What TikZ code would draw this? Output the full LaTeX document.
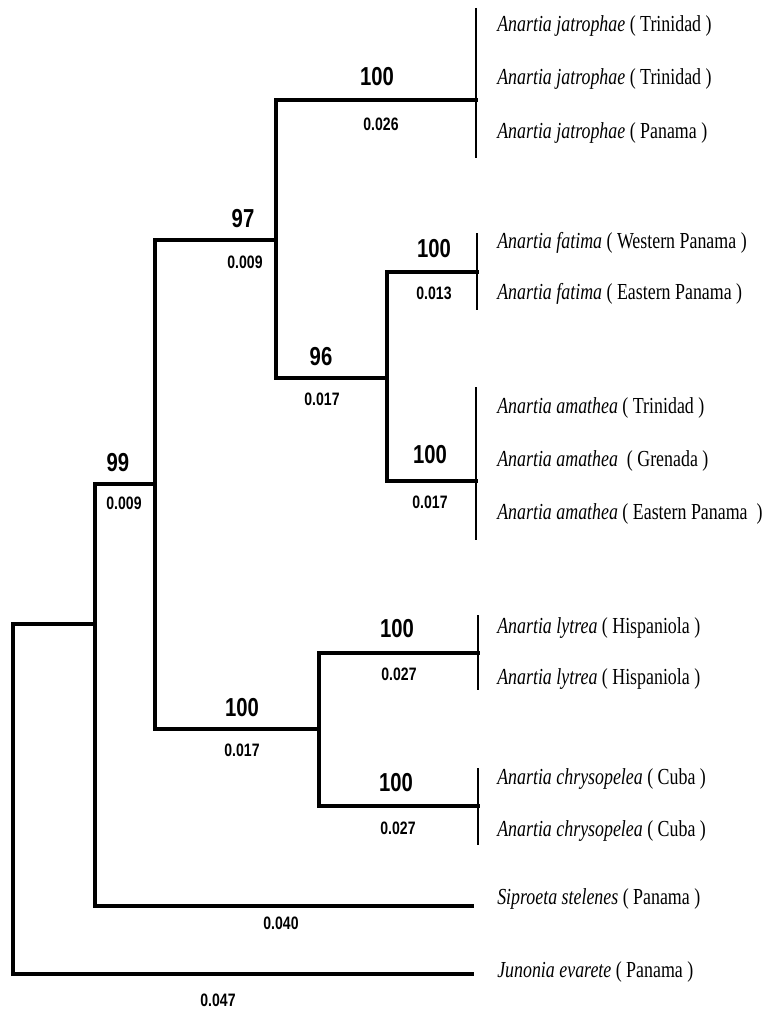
\documentclass[tikz,border=0pt]{standalone}
\usepackage{fontspec}
\setmainfont[FakeStretch=0.78]{Liberation Serif}
\newfontfamily\numfont[FakeStretch=0.78]{Liberation Sans}
\usetikzlibrary{calc,positioning}
\tikzset{
  br/.style={line width=2.6pt,black,line cap=rect},
  lf/.style={line width=1.1pt,black},
  tx/.style={anchor=base west,inner sep=0pt,font=\fontsize{17.2}{20}\selectfont},
  bs/.style={inner sep=0pt,font=\numfont\bfseries\fontsize{19.5}{21}\selectfont},
  bl/.style={inner sep=0pt,font=\numfont\bfseries\fontsize{13.5}{15}\selectfont}
}
\begin{document}
\begin{tikzpicture}[x=0.75pt,y=-0.75pt]
\useasboundingbox (0,0) rectangle (771,1013);
% internal nodes (top and bottom of each vertical)
\coordinate (Rt) at (13,624);  \coordinate (Rb) at (13,974);
\coordinate (At) at (95,484);  \coordinate (Ab) at (95,906);
\coordinate (Bt) at (155,240); \coordinate (Bb) at (155,729);
\coordinate (Ct) at (276,100); \coordinate (Cb) at (276,378);
\coordinate (Dt) at (387,272); \coordinate (Db) at (387,481);
\coordinate (Et) at (319,653); \coordinate (Eb) at (319,806);
% tips
\coordinate (jat) at (476,100); \coordinate (fat) at (477,272);
\coordinate (ama) at (476,481); \coordinate (lyt) at (478,653);
\coordinate (chr) at (478,806); \coordinate (sip) at (472,906);
\coordinate (jun) at (472,974);
% branches
\draw[br] (Rt -| At) -- (Rt) -- (Rb) -- (jun);
\draw[br] (At -| Bt) -- (At) -- (Ab) -- (sip);
\draw[br] (Bt -| Ct) -- (Bt) -- (Bb) -- (Bb -| Et);
\draw[br] (jat) -- (Ct) -- (Cb) -- (Cb -| Dt);
\draw[br] (fat) -- (Dt) -- (Db) -- (ama);
\draw[br] (lyt) -- (Et) -- (Eb) -- (chr);
% terminal bars
\draw[lf] (476,8) -- (476,158);
\draw[br,line width=2pt,line cap=butt] (476,47) -- (jat);
\draw[lf] (477,233) -- (477,310);
\draw[lf] (476,387) -- (476,540);
\draw[br,line width=2pt,line cap=butt] (476,425) -- (476,462);
\draw[lf] (478,615) -- (478,690);
\draw[lf] (478,768) -- (478,845);
% taxa
\node[tx] (t1) at (497,32) {\textit{Anartia jatrophae} ( Trinidad )};
\node[tx] (t2) at (497,85) {\textit{Anartia jatrophae} ( Trinidad )};
\node[tx] (t3) at (497,139) {\textit{Anartia jatrophae} ( Panama )};
\node[tx] (t4) at (497,248) {\textit{Anartia fatima} ( Western Panama )};
\node[tx] (t5) at (497,299) {\textit{Anartia fatima} ( Eastern Panama )};
\node[tx] (t6) at (497,413) {\textit{Anartia amathea} ( Trinidad )};
\node[tx] (t7) at (497,466) {\textit{Anartia amathea} \ ( Grenada )};
\node[tx] (t8) at (497,519) {\textit{Anartia amathea} ( Eastern Panama \ )};
\node[tx] (t9) at (497,633) {\textit{Anartia lytrea} ( Hispaniola )};
\node[tx] (t10) at (497,684) {\textit{Anartia lytrea} ( Hispaniola )};
\node[tx] (t11) at (497,784) {\textit{Anartia chrysopelea} ( Cuba )};
\node[tx] (t12) at (497,836) {\textit{Anartia chrysopelea} ( Cuba )};
\node[tx] (t13) at (497,904) {\textit{Siproeta stelenes} ( Panama )};
\node[tx] (t14) at (497,977) {\textit{Junonia evarete} ( Panama )};
% support values
\node[bs] (s1) at (377,77) {100};
\node[bs] (s2) at (243,219) {97};
\node[bs] (s3) at (434,249) {100};
\node[bs] (s4) at (321,357) {96};
\node[bs] (s5) at (430,455) {100};
\node[bs] (s6) at (118,463) {99};
\node[bs] (s7) at (397,629) {100};
\node[bs] (s8) at (242,708) {100};
\node[bs] (s9) at (396,783) {100};
% branch lengths
\node[bl] (l1) at (381,124) {0.026};
\node[bl] (l2) at (245,262) {0.009};
\node[bl] (l3) at (434,293) {0.013};
\node[bl] (l4) at (322,399) {0.017};
\node[bl] (l5) at (430,502) {0.017};
\node[bl] (l6) at (124,503) {0.009};
\node[bl] (l7) at (399,674) {0.027};
\node[bl] (l8) at (242,750) {0.017};
\node[bl] (l9) at (398,828) {0.027};
\node[bl] (l10) at (281,923) {0.040};
\node[bl] (l11) at (218,1000) {0.047};
\end{tikzpicture}
\end{document}
